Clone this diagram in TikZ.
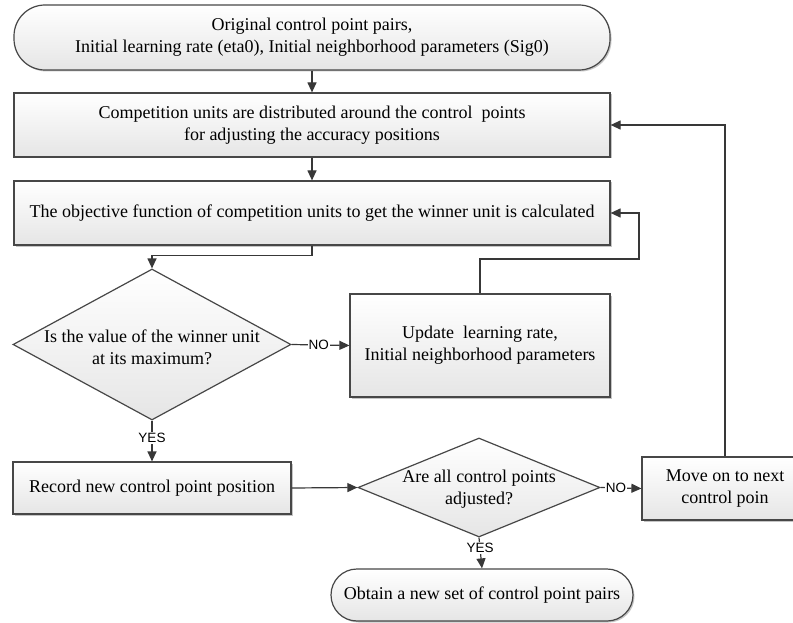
\documentclass[tikz,border=0pt]{standalone}
\usepackage{fontspec}
\setmainfont{Liberation Serif}
\newfontfamily\labfont{Liberation Sans}
\usetikzlibrary{arrows.meta,shapes.geometric,shadows}
\begin{document}
\begin{tikzpicture}[x=1pt,y=-1pt,
  line width=1.2pt,
  every node/.style={font=\fontsize{18}{22}\selectfont, align=center, inner sep=0pt},
  boxnode/.style={rectangle, draw=black!72, top color=white, bottom color=black!10,
    drop shadow={shadow xshift=1.5pt, shadow yshift=-1.5pt, fill=black!45, opacity=.5}},
  termnode/.style={boxnode},
  decision/.style={diamond, draw=black!72, top color=white, bottom color=black!10},
  conn/.style={draw=black!78, -{Triangle[length=10pt,width=9pt]}},
  lbl/.style={font=\labfont\fontsize{13.5}{15}\selectfont, fill=white, inner sep=1pt}
]
\useasboundingbox (0,0) rectangle (793,623);
\fill[white] (0,0) rectangle (793,623);
\clip (0,0) rectangle (793,623);

\node[termnode, rounded corners=31pt, minimum width=596pt, minimum height=65pt] (start) at (312,37.5)
  {Original control point pairs,\\Initial learning rate (eta0), Initial neighborhood parameters (Sig0)};
\node[boxnode, minimum width=596pt, minimum height=64pt] (comp) at (312,125)
  {Competition units are distributed around the control\ \ points\\for adjusting the accuracy positions};
\node[boxnode, minimum width=596pt, minimum height=64pt] (obj) at (312,213)
  {The objective function of competition units to get the winner unit is calculated};
\node[decision, minimum width=278pt, minimum height=151pt] (d1) at (152,344.5) {};
\node (d1t) at (152,347.5) {Is the value of the winner unit\\at its maximum?};
\node[boxnode, minimum width=260pt, minimum height=103pt] (upd) at (480,345.5)
  {Update\ \ learning rate,\\Initial neighborhood parameters};
\node[boxnode, minimum width=278pt, minimum height=52pt] (rec) at (152,488)
  {Record new control point position};
\node[decision, minimum width=242pt, minimum height=99pt] (d2) at (479,487.5) {};
\node (d2t) at (479,489) {Are all control points\\adjusted?};
\node[boxnode, minimum width=166pt, minimum height=63pt] (mov) at (725,488.5)
  {Move on to next\\control poin};
\node[termnode, rounded corners=26pt, minimum width=302pt, minimum height=52pt] (fin) at (482,595)
  {Obtain a new set of control point pairs};

\coordinate (c1) at (639,259);

\draw[conn] (start.south) -- (comp.north);
\draw[conn] (comp.south) -- (obj.north);
\draw[conn] (obj.south) -- ++(0,10) -| (d1.north);
\draw[conn] (d1.east) -- node[lbl, pos=0.47]{NO} (upd.west);
\draw[conn] (upd.north) |- (c1) |- (obj.east);
\draw[conn] (d1.south) -- node[lbl, pos=0.43]{YES} (rec.north);
\draw[conn] (rec.east) -- (d2.west);
\draw[conn] (d2.east) -- node[lbl, pos=0.38]{NO} (mov.west);
\draw[conn] (d2.south) -- node[lbl, pos=0.34]{YES} (fin.north);
\draw[conn] (mov.north) |- (comp.east);
\end{tikzpicture}
\end{document}
